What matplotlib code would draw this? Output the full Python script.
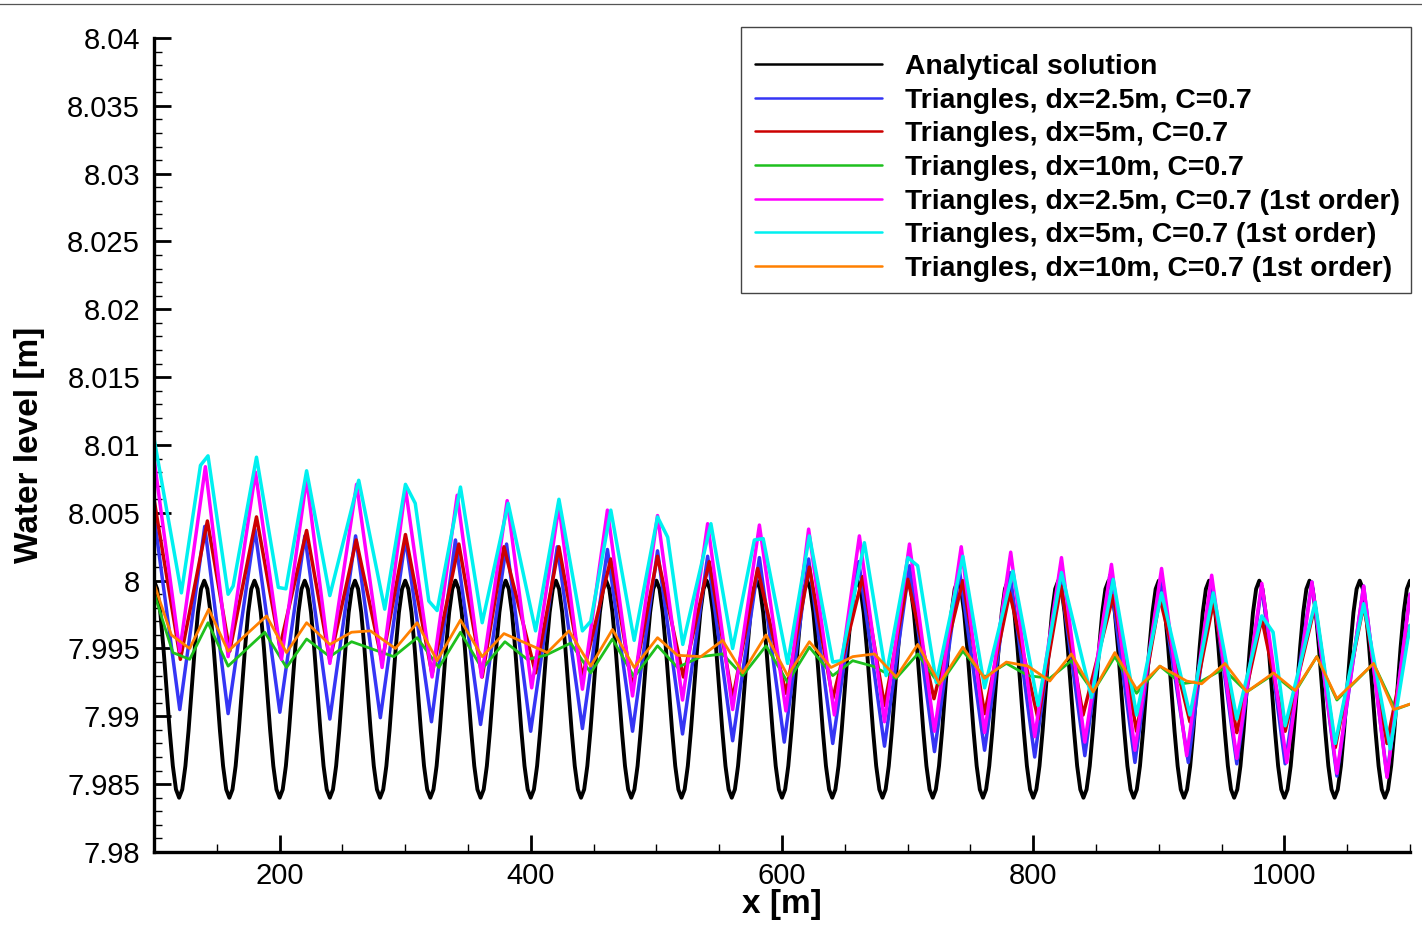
import matplotlib
matplotlib.use("Agg")
import numpy as np
import matplotlib.pyplot as plt
from matplotlib.ticker import MultipleLocator, FuncFormatter
from matplotlib.lines import Line2D
from matplotlib.patches import Rectangle

plt.rcParams['font.family'] = ['Liberation Sans', 'DejaVu Sans']

# analytical solution, read every 2.5 m (one 40 m wave per row)
ana_x = np.arange(100, 1100.1, 2.5)
ana_y = [
    8.0, 7.99939, 7.99766, 7.99506, 7.992, 7.98894, 7.98634, 7.98461, 7.984, 7.98461, 7.98634, 7.98894, 7.992, 7.99506, 7.99766, 7.99939,
    8.0, 7.99939, 7.99766, 7.99506, 7.992, 7.98894, 7.98634, 7.98461, 7.984, 7.98461, 7.98634, 7.98894, 7.992, 7.99506, 7.99766, 7.99939,
    8.0, 7.99939, 7.99766, 7.99506, 7.992, 7.98894, 7.98634, 7.98461, 7.984, 7.98461, 7.98634, 7.98894, 7.992, 7.99506, 7.99766, 7.99939,
    8.0, 7.99939, 7.99766, 7.99506, 7.992, 7.98894, 7.98634, 7.98461, 7.984, 7.98461, 7.98634, 7.98894, 7.992, 7.99506, 7.99766, 7.99939,
    8.0, 7.99939, 7.99766, 7.99506, 7.992, 7.98894, 7.98634, 7.98461, 7.984, 7.98461, 7.98634, 7.98894, 7.992, 7.99506, 7.99766, 7.99939,
    8.0, 7.99939, 7.99766, 7.99506, 7.992, 7.98894, 7.98634, 7.98461, 7.984, 7.98461, 7.98634, 7.98894, 7.992, 7.99506, 7.99766, 7.99939,
    8.0, 7.99939, 7.99766, 7.99506, 7.992, 7.98894, 7.98634, 7.98461, 7.984, 7.98461, 7.98634, 7.98894, 7.992, 7.99506, 7.99766, 7.99939,
    8.0, 7.99939, 7.99766, 7.99506, 7.992, 7.98894, 7.98634, 7.98461, 7.984, 7.98461, 7.98634, 7.98894, 7.992, 7.99506, 7.99766, 7.99939,
    8.0, 7.99939, 7.99766, 7.99506, 7.992, 7.98894, 7.98634, 7.98461, 7.984, 7.98461, 7.98634, 7.98894, 7.992, 7.99506, 7.99766, 7.99939,
    8.0, 7.99939, 7.99766, 7.99506, 7.992, 7.98894, 7.98634, 7.98461, 7.984, 7.98461, 7.98634, 7.98894, 7.992, 7.99506, 7.99766, 7.99939,
    8.0, 7.99939, 7.99766, 7.99506, 7.992, 7.98894, 7.98634, 7.98461, 7.984, 7.98461, 7.98634, 7.98894, 7.992, 7.99506, 7.99766, 7.99939,
    8.0, 7.99939, 7.99766, 7.99506, 7.992, 7.98894, 7.98634, 7.98461, 7.984, 7.98461, 7.98634, 7.98894, 7.992, 7.99506, 7.99766, 7.99939,
    8.0, 7.99939, 7.99766, 7.99506, 7.992, 7.98894, 7.98634, 7.98461, 7.984, 7.98461, 7.98634, 7.98894, 7.992, 7.99506, 7.99766, 7.99939,
    8.0, 7.99939, 7.99766, 7.99506, 7.992, 7.98894, 7.98634, 7.98461, 7.984, 7.98461, 7.98634, 7.98894, 7.992, 7.99506, 7.99766, 7.99939,
    8.0, 7.99939, 7.99766, 7.99506, 7.992, 7.98894, 7.98634, 7.98461, 7.984, 7.98461, 7.98634, 7.98894, 7.992, 7.99506, 7.99766, 7.99939,
    8.0, 7.99939, 7.99766, 7.99506, 7.992, 7.98894, 7.98634, 7.98461, 7.984, 7.98461, 7.98634, 7.98894, 7.992, 7.99506, 7.99766, 7.99939,
    8.0, 7.99939, 7.99766, 7.99506, 7.992, 7.98894, 7.98634, 7.98461, 7.984, 7.98461, 7.98634, 7.98894, 7.992, 7.99506, 7.99766, 7.99939,
    8.0, 7.99939, 7.99766, 7.99506, 7.992, 7.98894, 7.98634, 7.98461, 7.984, 7.98461, 7.98634, 7.98894, 7.992, 7.99506, 7.99766, 7.99939,
    8.0, 7.99939, 7.99766, 7.99506, 7.992, 7.98894, 7.98634, 7.98461, 7.984, 7.98461, 7.98634, 7.98894, 7.992, 7.99506, 7.99766, 7.99939,
    8.0, 7.99939, 7.99766, 7.99506, 7.992, 7.98894, 7.98634, 7.98461, 7.984, 7.98461, 7.98634, 7.98894, 7.992, 7.99506, 7.99766, 7.99939,
    8.0, 7.99939, 7.99766, 7.99506, 7.992, 7.98894, 7.98634, 7.98461, 7.984, 7.98461, 7.98634, 7.98894, 7.992, 7.99506, 7.99766, 7.99939,
    8.0, 7.99939, 7.99766, 7.99506, 7.992, 7.98894, 7.98634, 7.98461, 7.984, 7.98461, 7.98634, 7.98894, 7.992, 7.99506, 7.99766, 7.99939,
    8.0, 7.99939, 7.99766, 7.99506, 7.992, 7.98894, 7.98634, 7.98461, 7.984, 7.98461, 7.98634, 7.98894, 7.992, 7.99506, 7.99766, 7.99939,
    8.0, 7.99939, 7.99766, 7.99506, 7.992, 7.98894, 7.98634, 7.98461, 7.984, 7.98461, 7.98634, 7.98894, 7.992, 7.99506, 7.99766, 7.99939,
    8.0, 7.99939, 7.99766, 7.99506, 7.992, 7.98894, 7.98634, 7.98461, 7.984, 7.98461, 7.98634, 7.98894, 7.992, 7.99506, 7.99766, 7.99939,
    8.0,
]

# dx=2.5m (turning points)
tri25_x = [100, 120.5, 140.4, 159, 180.3, 200.2, 220.1, 240, 260.5, 280.2, 300.2, 320.9, 340, 360,
           380.7, 399.9, 421.1, 441.1, 461, 481, 500.9, 520.8, 540.8, 560.7, 582, 601.8, 621.2,
           640.4, 661.1, 681.6, 701.5, 721.4, 741.4, 761.3, 781.3, 801.2, 821.1, 841.1, 861, 881,
           900.9, 923.5, 942.1, 962.1, 982, 1000.6, 1021.9, 1041.8, 1063.1, 1081.7, 1100]
tri25_y = [8.0048, 7.9905, 8.0040, 7.9902, 8.0038, 7.9903, 8.0033, 7.9898, 8.0033, 7.9899, 8.0031,
           7.9896, 8.0030, 7.9894, 8.0027, 7.9889, 8.0025, 7.9891, 8.0023, 7.9889, 8.0022, 7.9887,
           8.0018, 7.9882, 8.0017, 7.9881, 8.0016, 7.9880, 8.0014, 7.9878, 8.0011, 7.9874, 8.0007,
           7.9875, 8.0006, 7.9870, 8.0005, 7.9871, 8.0004, 7.9866, 8.0000, 7.9866, 7.9999, 7.9865,
           7.9996, 7.9865, 7.9999, 7.9856, 7.9996, 7.9856, 7.9990]

# dx=5m
tri5_x = [100, 121, 142.5, 160.3, 181.6, 200.2, 221.5, 240, 261, 281.6, 300.2, 321.4, 342.7, 361.3,
          378.6, 403.8, 422.4, 441.1, 463.7, 481, 500.9, 521.5, 542.1, 560.7, 580.6, 603.1, 621.8,
          640.4, 664.3, 681.6, 700.2, 721, 744, 761.3, 781.3, 803.9, 822, 839.7, 863.7, 882.3,
          900.9, 924.8, 943.4, 962.1, 982, 1000.6, 1024.5, 1040.5, 1063.1, 1081.7, 1100]
tri5_y = [8.0060, 7.9942, 8.0044, 7.9948, 8.0047, 7.9951, 8.0037, 7.9941, 8.0030, 7.9940, 8.0034,
          7.9931, 8.0027, 7.9929, 8.0025, 7.9932, 8.0025, 7.9929, 8.0016, 7.9921, 8.0018, 7.9929,
          8.0014, 7.9913, 8.0009, 7.9917, 8.0010, 7.9913, 8.0003, 7.9908, 8.0001, 7.9913, 8.0000,
          7.9902, 7.9991, 7.9898, 7.9996, 7.9901, 7.9989, 7.9889, 7.9987, 7.9896, 7.9984, 7.9888,
          7.9972, 7.9889, 7.9982, 7.9877, 7.9982, 7.9880, 7.9967]

# dx=10m
tri10_x = [100, 115, 128.4, 143, 159, 188.2, 205.5, 221.5, 240, 257.3, 290.9, 309.5, 326.8, 344,
           361.3, 379.4, 397.2, 411.8, 431.8, 447.7, 465, 482.3, 500.9, 516.8, 535.4, 552.7, 568.7,
           587.3, 604.5, 621.8, 640.4, 656.3, 672.3, 690.9, 708.1, 725.4, 744, 761.3, 778.6, 795.9,
           813.2, 830.4, 847.7, 865, 882.3, 900.9, 918.2, 934.1, 951.4, 970, 991.3, 1008.6, 1025.8,
           1041.8, 1071, 1088.3, 1100]
tri10_y = [7.9991, 7.9947, 7.9942, 7.9969, 7.9937, 7.9962, 7.9936, 7.9957, 7.9944, 7.9955, 7.9944,
           7.9958, 7.9936, 7.9962, 7.9935, 7.9955, 7.9942, 7.9945, 7.9954, 7.9932, 7.9957, 7.9929,
           7.9952, 7.9936, 7.9944, 7.9946, 7.9930, 7.9952, 7.9925, 7.9951, 7.9930, 7.9941, 7.9937,
           7.9928, 7.9946, 7.9923, 7.9948, 7.9929, 7.9939, 7.9930, 7.9928, 7.9941, 7.9918, 7.9944,
           7.9917, 7.9937, 7.9924, 7.9926, 7.9935, 7.9918, 7.9931, 7.9918, 7.9944, 7.9912, 7.9939,
           7.9905, 7.9909]

# dx=2.5m, 1st order
tri25o1_x = [100, 120.5, 140.9, 159, 180.8, 201.5, 221.5, 240, 261.3, 281.6, 300.2, 321.4, 341.4,
             360.8, 381.2, 400.7, 422.4, 441.1, 461, 481, 500.9, 520.8, 540.8, 560.7, 582, 603.1,
             621.2, 641.7, 661.6, 681.6, 701.5, 721.4, 742.7, 761.3, 782.1, 801.2, 822.5, 841.1,
             862.3, 881, 902.2, 922.2, 942.1, 962.1, 982, 1001.9, 1021.9, 1041.8, 1063.1, 1081.7, 1100]
tri25o1_y = [8.0090, 7.9948, 8.0084, 7.9944, 8.0080, 7.9942, 8.0075, 7.9939, 8.0071, 7.9936, 8.0068,
             7.9929, 8.0063, 7.9929, 8.0059, 7.9921, 8.0055, 7.9920, 8.0052, 7.9915, 8.0048, 7.9912,
             8.0042, 7.9905, 8.0041, 7.9904, 8.0038, 7.9901, 8.0033, 7.9896, 8.0027, 7.9889, 8.0025,
             7.9888, 8.0021, 7.9885, 8.0017, 7.9881, 8.0012, 7.9875, 8.0009, 7.9871, 8.0004, 7.9869,
             7.9998, 7.9866, 7.9999, 7.9858, 7.9996, 7.9855, 7.9990]

# dx=5m, 1st order
tri5o1_x = [100, 121.8, 137, 143, 159, 163, 181.6, 199, 205, 221.5, 240, 263, 283.7, 300.2, 308,
            318.8, 325.4, 344, 361.3, 382, 403.8, 422.4, 441.1, 447.7, 463.7, 482.3, 500.9, 509,
            521, 543.4, 560.7, 578, 585, 604.5, 621.8, 640.4, 647, 665.6, 682.9, 700.2, 708, 722.8,
            744, 761.3, 783.9, 803.9, 822.5, 846.4, 863.7, 882.3, 902.2, 924.8, 943.4, 962.1, 982,
            991, 1000.6, 1024.5, 1040.5, 1063.1, 1084.3, 1100]
tri5o1_y = [8.0105, 7.9991, 8.0085, 8.0092, 7.9990, 7.9996, 8.0091, 7.9995, 7.9994, 8.0081, 7.9989,
            8.0074, 7.9979, 8.0071, 8.0057, 7.9985, 7.9978, 8.0069, 7.9969, 8.0057, 7.9963, 8.0060,
            7.9963, 7.9970, 8.0052, 7.9956, 8.0047, 8.0032, 7.9953, 8.0042, 7.9950, 8.0030, 8.0031,
            7.9939, 8.0033, 7.9940, 7.9941, 8.0028, 7.9930, 8.0017, 8.0011, 7.9925, 8.0018, 7.9921,
            8.0007, 7.9908, 8.0006, 7.9914, 8.0001, 7.9901, 7.9991, 7.9901, 7.9991, 7.9898, 7.9974,
            7.9962, 7.9893, 7.9984, 7.9880, 7.9983, 7.9876, 7.9967]

# dx=10m, 1st order
tri10o1_x = [100, 113.8, 128.4, 143.6, 159, 189.6, 205.5, 221.5, 240, 257.3, 272.3, 292.2, 309.5,
             325.4, 344, 361.3, 378.6, 413.1, 430.4, 447.7, 465, 482.3, 500.9, 516.8, 535.4, 552.7,
             568.7, 587.3, 604.5, 621.8, 639, 656.3, 673.6, 690.9, 708.1, 725.4, 744, 761.3, 778.6,
             795.9, 813.2, 830.4, 847.7, 865, 882.3, 900.9, 922.2, 934.1, 952.7, 970, 991.3, 1008.6,
             1025.8, 1041.8, 1071, 1087, 1100]
tri10o1_y = [7.9998, 7.9960, 7.9950, 7.9979, 7.9948, 7.9974, 7.9947, 7.9969, 7.9953, 7.9962, 7.9963,
             7.9950, 7.9969, 7.9941, 7.9971, 7.9944, 7.9961, 7.9947, 7.9963, 7.9937, 7.9964, 7.9936,
             7.9958, 7.9945, 7.9944, 7.9956, 7.9932, 7.9960, 7.9930, 7.9955, 7.9936, 7.9944, 7.9946,
             7.9929, 7.9953, 7.9924, 7.9951, 7.9928, 7.9940, 7.9937, 7.9926, 7.9946, 7.9918, 7.9947,
             7.9920, 7.9937, 7.9926, 7.9924, 7.9939, 7.9918, 7.9932, 7.9919, 7.9944, 7.9913, 7.9939,
             7.9905, 7.9909]

labels = ["Analytical solution",
          "Triangles, dx=2.5m, C=0.7",
          "Triangles, dx=5m, C=0.7",
          "Triangles, dx=10m, C=0.7",
          "Triangles, dx=2.5m, C=0.7 (1st order)",
          "Triangles, dx=5m, C=0.7 (1st order)",
          "Triangles, dx=10m, C=0.7 (1st order)"]

W, H = 1422, 943
fig = plt.figure(figsize=(W / 100, H / 100), dpi=100)
ax = fig.add_axes([154 / W, 1 - 852 / H, 1256 / W, 814 / H])

kw = dict(solid_joinstyle="round", solid_capstyle="round")
ax.plot(ana_x, ana_y, color="black", lw=2.8, label=labels[0], **kw)
ax.plot(tri25_x, tri25_y, color="#3535f5", lw=2.5, label=labels[1], **kw)
ax.plot(tri5_x, tri5_y, color="#cc0000", lw=2.5, label=labels[2], **kw)
ax.plot(tri10_x, tri10_y, color="#1ec01e", lw=2.0, label=labels[3], **kw)
ax.plot(tri25o1_x, tri25o1_y, color="#ff00ff", lw=2.5, label=labels[4], **kw)
ax.plot(tri5o1_x, tri5o1_y, color="#00f0f0", lw=2.5, label=labels[5], **kw)
ax.plot(tri10o1_x, tri10o1_y, color="#ff8000", lw=2.0, label=labels[6], **kw)

ax.set_xlim(100, 1100)
ax.set_ylim(7.98, 8.04)
ax.xaxis.set_major_locator(MultipleLocator(200))
ax.xaxis.set_minor_locator(MultipleLocator(50))
ax.yaxis.set_major_locator(MultipleLocator(0.005))
ax.yaxis.set_minor_locator(MultipleLocator(0.001))
ax.yaxis.set_major_formatter(FuncFormatter(lambda v, p: ("%.3f" % v).rstrip("0").rstrip(".")))
ax.xaxis.set_major_formatter(FuncFormatter(lambda v, p: "%d" % v))

for s in ["top", "right"]:
    ax.spines[s].set_visible(False)
for s in ["left", "bottom"]:
    ax.spines[s].set_linewidth(2.4)
ax.tick_params(which="major", direction="in", length=12, width=2, labelsize=21)
ax.tick_params(which="minor", direction="in", length=6, width=1)
ax.tick_params(axis="y", which="major", pad=10)
ax.tick_params(axis="x", which="major", pad=7)

ax.set_xlabel("x [m]", fontsize=24, fontweight="bold")
ax.set_ylabel("Water level [m]", fontsize=24, fontweight="bold")
ax.xaxis.set_label_coords(0.5, -0.046)
ax.yaxis.set_label_coords(-0.087, 0.5)

# legend frame drawn separately so the entries can sit lower in the box
fig.add_artist(Rectangle((741 / W, 1 - 293 / H), 670 / W, 266 / H, transform=fig.transFigure,
                         facecolor="none", edgecolor="#444444", lw=1.0))
leg = ax.legend(loc="upper left", bbox_to_anchor=(755 / W, 1 - 54 / H),
                bbox_transform=fig.transFigure, fontsize=20.4, frameon=False,
                borderpad=0, handlelength=4.49, handletextpad=0.81, labelspacing=0.27,
                borderaxespad=0)
for t in leg.get_texts():
    t.set_fontweight("bold")
for h in leg.get_lines():
    h.set_linewidth(1.8)

# thin rule along the top edge of the image
fig.add_artist(Line2D([0, 1], [1 - 4 / H, 1 - 4 / H], transform=fig.transFigure,
                      color="#555555", lw=0.9))

fig.savefig("out.png", dpi=100)
